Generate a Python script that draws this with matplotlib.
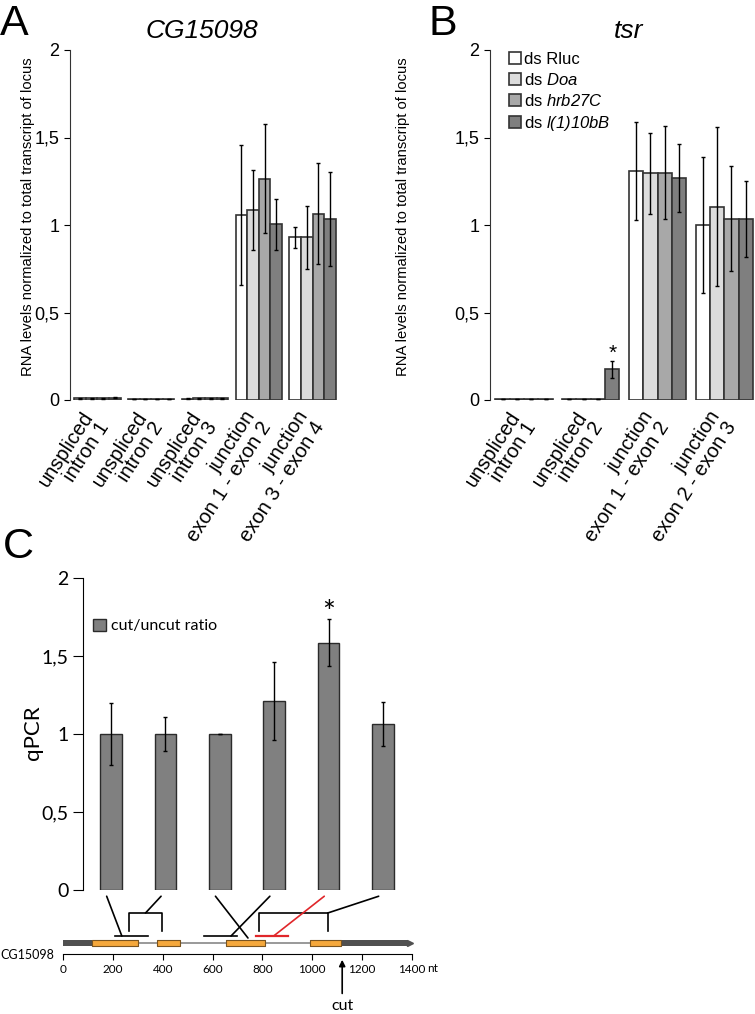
import matplotlib
matplotlib.use("Agg")
import matplotlib.pyplot as plt
from matplotlib.patches import Patch, ConnectionPatch

plt.rcParams['font.family'] = ['Liberation Sans', 'DejaVu Sans']
plt.rcParams['mathtext.fontset'] = 'custom'
plt.rcParams['mathtext.rm'] = 'Liberation Sans:italic'
plt.rcParams['mathtext.it'] = 'Liberation Sans:italic'

# ---- data ----
series_labels = ['ds Rluc', r'ds $\mathrm{Doa}$', r'ds $\mathrm{hrb27C}$', r'ds $\mathrm{l(1)10bB}$']
series_colors = ['#ffffff', '#dcdcdc', '#a8a8a8', '#7f7f7f']

# panel A: CG15098
a_categories = ['unspliced\nintron 1', 'unspliced\nintron 2', 'unspliced\nintron 3',
                'junction\nexon 1 - exon 2', 'junction\nexon 3 - exon 4']
a_rluc = [0.010, 0.004, 0.008, 1.060, 0.930]
a_doa = [0.010, 0.004, 0.009, 1.085, 0.930]
a_hrb = [0.011, 0.004, 0.010, 1.265, 1.065]
a_l110 = [0.012, 0.004, 0.010, 1.005, 1.035]
a_rluc_err = [0.003, 0.001, 0.002, 0.400, 0.060]
a_doa_err = [0.003, 0.001, 0.003, 0.230, 0.180]
a_hrb_err = [0.003, 0.001, 0.003, 0.310, 0.290]
a_l110_err = [0.003, 0.001, 0.003, 0.145, 0.270]

# panel B: tsr
b_categories = ['unspliced\nintron 1', 'unspliced\nintron 2',
                'junction\nexon 1 - exon 2', 'junction\nexon 2 - exon 3']
b_rluc = [0.005, 0.006, 1.310, 1.000]
b_doa = [0.005, 0.006, 1.295, 1.105]
b_hrb = [0.005, 0.006, 1.300, 1.035]
b_l110 = [0.006, 0.175, 1.270, 1.035]
b_rluc_err = [0.001, 0.001, 0.280, 0.390]
b_doa_err = [0.001, 0.001, 0.230, 0.455]
b_hrb_err = [0.001, 0.001, 0.265, 0.300]
b_l110_err = [0.001, 0.050, 0.195, 0.215]

# panel C: cut/uncut ratio
c_ratio = [1.000, 1.000, 1.000, 1.210, 1.585, 1.065]
c_err = [0.200, 0.110, 0.000, 0.250, 0.150, 0.140]

# gene model of CG15098 (nt)
utr_regions = [(0, 116), (1115, 1385)]
exon_regions = [(116, 300), (378, 470), (654, 810), (991, 1115)]
primer_lines = [(209, 342), (566, 698)]
primer_red = (774, 903)
primer_brackets = [(265, 397), (786, 1062)]
cut_site = 1120
scale_ticks = [0, 200, 400, 600, 800, 1000, 1200, 1400]
# where each amplicon bar points to on the gene model
link_nt = [236, 331, 742, 674, 845, 1062]
link_level = ['primer', 'bracket', 'gene', 'primer', 'primer', 'bracket']
link_colors = ['black', 'black', 'black', 'black', '#e0262a', 'black']

yticks = [0, 0.5, 1, 1.5, 2]
yticklabels = ['0', '0,5', '1', '1,5', '2']

fig = plt.figure(figsize=(7.55, 10.14), dpi=100)


def grouped_panel(ax, cats, means, errs, n_x_right):
    width = 0.215
    for k in range(4):
        xs = [i + (k - 1.5) * width for i in range(len(cats))]
        ax.bar(xs, means[k], width, color=series_colors[k], edgecolor='#333333',
               linewidth=1.2, yerr=errs[k],
               error_kw=dict(ecolor='black', elinewidth=1, capsize=1.5, capthick=1))
    ax.set_ylim(0, 2)
    ax.set_xlim(-0.51, n_x_right)
    for s in ['top', 'right', 'bottom']:
        ax.spines[s].set_visible(False)
    ax.spines['left'].set_color('#333333')
    ax.set_yticks(yticks, yticklabels)
    ax.tick_params(axis='y', length=4, labelsize=13, direction='out')
    ax.set_xticks(range(len(cats)))
    ax.set_xticklabels(cats, rotation=57, ha='right', va='center', rotation_mode='anchor',
                       multialignment='right', fontsize=14.5, linespacing=1.0)
    ax.tick_params(axis='x', length=0, pad=13)


# panel A
axA = fig.add_axes([70 / 755, 1 - 400 / 1014, 270 / 755, 350 / 1014])
grouped_panel(axA, a_categories, [a_rluc, a_doa, a_hrb, a_l110],
              [a_rluc_err, a_doa_err, a_hrb_err, a_l110_err], 4.51)

# panel B
axB = fig.add_axes([490 / 755, 1 - 400 / 1014, 265 / 755, 350 / 1014])
grouped_panel(axB, b_categories, [b_rluc, b_doa, b_hrb, b_l110],
              [b_rluc_err, b_doa_err, b_hrb_err, b_l110_err], 3.46)
axB.text(1 + 1.5 * 0.215, b_l110[1] + b_l110_err[1] - 0.01, '*', ha='center', va='bottom', fontsize=15)
handles = [Patch(facecolor=c, edgecolor='#333333', linewidth=1.2) for c in series_colors]
axB.legend(handles, series_labels, loc='upper left', bbox_to_anchor=(0.07, 0.995),
           frameon=False, fontsize=12, handlelength=0.75, handleheight=0.75,
           handletextpad=0.2, labelspacing=0.3, borderpad=0, borderaxespad=0)

fig.text(0.0, 1 - 4 / 1014, 'A', fontsize=31, va='top', ha='left')
fig.text(428 / 755, 1 - 4 / 1014, 'B', fontsize=31, va='top', ha='left')
fig.text(202 / 755, 1 - 31 / 1014, 'CG15098', fontsize=19, style='italic', ha='center', va='center')
fig.text(628 / 755, 1 - 31 / 1014, 'tsr', fontsize=19, style='italic', ha='center', va='center')
ylab = 'RNA levels normalized to total transcript of locus'
fig.text(28 / 755, 1 - 217 / 1014, ylab, rotation=90, fontsize=10.6, ha='center', va='center')
fig.text(403 / 755, 1 - 217 / 1014, ylab, rotation=90, fontsize=10.6, ha='center', va='center')

# panel C
axC = fig.add_axes([83 / 755, 1 - 890 / 1014, 337 / 755, 312 / 1014])
xc = list(range(len(c_ratio)))
axC.bar(xc, c_ratio, 0.40, color='#808080', edgecolor='#2b2b2b', linewidth=1,
        yerr=c_err, error_kw=dict(ecolor='black', elinewidth=1, capsize=1.5, capthick=1),
        label='cut/uncut ratio')
axC.set_ylim(0, 2)
axC.set_xlim(-0.515, 5.68)
for s in ['top', 'right', 'bottom']:
    axC.spines[s].set_visible(False)
axC.set_xticks([])
axC.set_yticks(yticks, yticklabels)
axC.tick_params(axis='y', length=7, labelsize=14, direction='out', labelfontfamily='Lato')
axC.text(4, c_ratio[4] + c_err[4] - 0.05, '*', ha='center', va='bottom', fontsize=22, fontfamily='Lato')
axC.legend(loc='center left', bbox_to_anchor=(0.03, 0.846), frameon=False,
           prop={'family': 'Lato', 'size': 11.5}, handlelength=0.8, handleheight=0.8,
           handletextpad=0.3, borderpad=0, borderaxespad=0)
fig.text(0.004, 1 - 527 / 1014, 'C', fontsize=31, va='top', ha='left')
fig.text(33 / 755, 1 - 733 / 1014, 'qPCR', rotation=90, fontsize=16, fontfamily='Lato',
         ha='center', va='center')

# gene model
axG = fig.add_axes([63 / 755, 0, 349 / 755, 119 / 1014])
axG.set_xlim(0, 1400)
axG.set_ylim(-7.1, 4.8)
for s in ['top', 'right', 'left']:
    axG.spines[s].set_visible(False)
axG.patch.set_alpha(0)
axG.plot([0, 1390], [0, 0], color='#888888', lw=1.2, zorder=1)
axG.broken_barh([(s, e - s) for s, e in utr_regions], (-0.28, 0.56), facecolors='#505050', zorder=2)
axG.plot(1392, 0, marker='>', ms=4, color='#505050', clip_on=False)
axG.broken_barh([(s, e - s) for s, e in exon_regions], (-0.32, 0.64), facecolors='#f5a83c',
                edgecolors='#7a5420', linewidth=0.8, zorder=3)
for s, e in primer_lines:
    axG.plot([s, e], [0.7, 0.7], color='black', lw=1.2)
axG.plot(primer_red, [0.7, 0.7], color='#e0262a', lw=1.6)
for s, e in primer_brackets:
    axG.plot([s, s, e, e], [1.2, 3.0, 3.0, 1.2], color='black', lw=1.2)
axG.spines['bottom'].set_position(('data', -1.1))
axG.set_xticks(scale_ticks, [str(t) for t in scale_ticks])
axG.tick_params(axis='x', length=4, labelsize=8.5, labelfontfamily='Lato', pad=3)
axG.set_yticks([])
axG.text(1462, -2.55, 'nt', ha='left', va='center', fontsize=8.5, fontfamily='Lato', clip_on=False)
fig.text(0.001, 1 - 955 / 1014, 'CG15098', ha='left', va='center', fontsize=9, fontfamily='Lato')
axG.annotate('cut', xy=(cut_site, -1.4), xytext=(cut_site, -6.3), ha='center', va='center',
             fontsize=11.5, fontfamily='Lato',
             arrowprops=dict(arrowstyle='-|>', color='black', lw=1.2, mutation_scale=9))

levels = {'primer': 0.7, 'bracket': 3.0, 'gene': 0.5}
for i in range(len(c_ratio)):
    con = ConnectionPatch(xyA=(i - 0.08, -0.04), coordsA=axC.transData,
                          xyB=(link_nt[i], levels[link_level[i]]), coordsB=axG.transData,
                          color=link_colors[i], lw=1.2)
    fig.add_artist(con)

fig.savefig('out.png', dpi=100)
